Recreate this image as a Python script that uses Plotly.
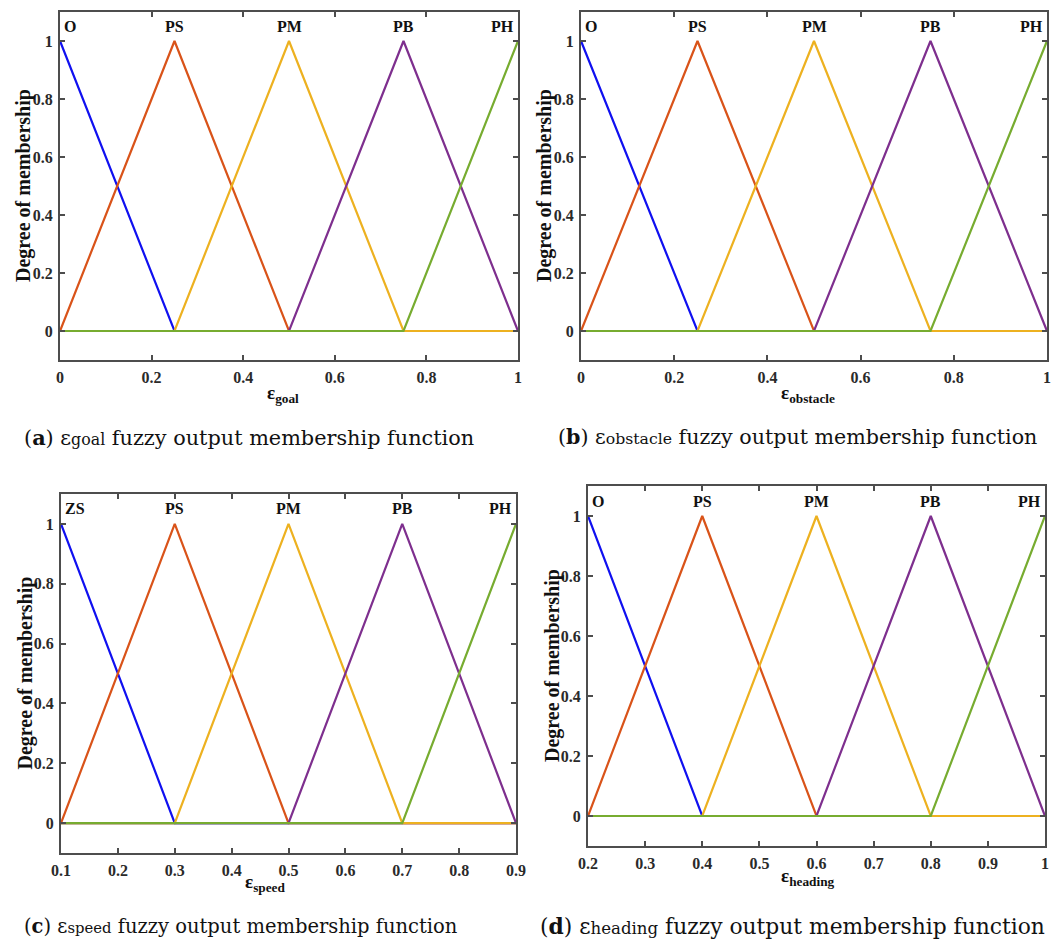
import plotly.graph_objects as go

W, H = 1063, 942

# ---- data ----
GOAL_X = [0.0, 0.25, 0.5, 0.75, 1.0]
OBST_X = [0.0, 0.25, 0.5, 0.75, 1.0]
SPEED_X = [0.1, 0.3, 0.5, 0.7, 0.9]
HEAD_X = [0.2, 0.4, 0.6, 0.8, 1.0]

MF_1 = [1, 0, 0, 0, 0]
MF_2 = [0, 1, 0, 0, 0]
MF_3 = [0, 0, 1, 0, 0]
MF_4 = [0, 0, 0, 1, 0]
MF_5 = [0, 0, 0, 0, 1]

LABELS_GOAL = ["O", "PS", "PM", "PB", "PH"]
LABELS_OBST = ["O", "PS", "PM", "PB", "PH"]
LABELS_SPEED = ["ZS", "PS", "PM", "PB", "PH"]
LABELS_HEAD = ["O", "PS", "PM", "PB", "PH"]

TICKS_GOAL = [0, 0.2, 0.4, 0.6, 0.8, 1]
TICKTEXT_GOAL = ["0", "0.2", "0.4", "0.6", "0.8", "1"]
TICKS_SPEED = [0.1, 0.2, 0.3, 0.4, 0.5, 0.6, 0.7, 0.8, 0.9]
TICKTEXT_SPEED = ["0.1", "0.2", "0.3", "0.4", "0.5", "0.6", "0.7", "0.8", "0.9"]
TICKS_HEAD = [0.2, 0.3, 0.4, 0.5, 0.6, 0.7, 0.8, 0.9, 1.0]
TICKTEXT_HEAD = ["0.2", "0.3", "0.4", "0.5", "0.6", "0.7", "0.8", "0.9", "1"]
Y_TICKS = [0, 0.2, 0.4, 0.6, 0.8, 1]
Y_TICKTEXT = ["0", "0.2", "0.4", "0.6", "0.8", "1"]

COLORS = ["#1010f0", "#d95319", "#edb120", "#7e2f8e", "#77ac30"]

# ---- layout (pixel boxes: left, right, top, bottom) ----
panels = [
    dict(x=GOAL_X, labels=LABELS_GOAL, ticks=TICKS_GOAL, ticktext=TICKTEXT_GOAL,
         box=(60, 518, 12, 360), sub="goal", cap_x=22, cap_y=437, cap_fs=20.8,
         xt_x=283, xt_y=394, tl="a"),
    dict(x=OBST_X, labels=LABELS_OBST, ticks=TICKS_GOAL, ticktext=TICKTEXT_GOAL,
         box=(581, 1047, 12, 360), sub="obstacle", cap_x=556, cap_y=437, cap_fs=20.6,
         xt_x=808, xt_y=394, tl="b"),
    dict(x=SPEED_X, labels=LABELS_SPEED, ticks=TICKS_SPEED, ticktext=TICKTEXT_SPEED,
         box=(61, 516, 494, 853), sub="speed", cap_x=22, cap_y=926, cap_fs=19.5,
         xt_x=265, xt_y=883, tl="c"),
    dict(x=HEAD_X, labels=LABELS_HEAD, ticks=TICKS_HEAD, ticktext=TICKTEXT_HEAD,
         box=(588, 1045, 486, 846), sub="heading", cap_x=538, cap_y=926, cap_fs=21.8,
         xt_x=808, xt_y=877, tl="d"),
]

fig = go.Figure()
annotations = []
FRAME = "#4d4d4d"
TICKFONT = dict(family="Liberation Serif", size=16, color="#2a2a2a", weight="bold")

for i, p in enumerate(panels):
    n = i + 1
    xa = "x" if n == 1 else f"x{n}"
    ya = "y" if n == 1 else f"y{n}"
    for mf, col in zip([MF_1, MF_2, MF_3, MF_4, MF_5], COLORS):
        fig.add_trace(go.Scatter(x=p["x"], y=mf, mode="lines",
                                 line=dict(color=col, width=2.2),
                                 xaxis=xa, yaxis=ya, showlegend=False,
                                 hoverinfo="skip"))
    l, r, t, b = p["box"]
    xdom = [l / W, r / W]
    ydom = [1 - b / H, 1 - t / H]
    xmin, xmax = p["x"][0], p["x"][-1]
    axkey = "xaxis" if n == 1 else f"xaxis{n}"
    aykey = "yaxis" if n == 1 else f"yaxis{n}"
    fig.layout[axkey] = dict(domain=xdom, range=[xmin, xmax], anchor=ya,
                             tickmode="array", tickvals=p["ticks"], ticktext=p["ticktext"],
                             ticks="inside", ticklen=5, tickwidth=1.5, tickcolor=FRAME,
                             showline=True, linecolor=FRAME, linewidth=2, mirror="ticks",
                             showgrid=False, zeroline=False, tickfont=TICKFONT,
                             ticklabelstandoff=2, automargin=False)
    fig.layout[aykey] = dict(domain=ydom, range=[-0.1, 1.1], anchor=xa,
                             tickmode="array", tickvals=Y_TICKS, ticktext=Y_TICKTEXT,
                             ticks="inside", ticklen=5, tickwidth=1.5, tickcolor=FRAME,
                             showline=True, linecolor=FRAME, linewidth=2, mirror="ticks",
                             showgrid=False, zeroline=False, tickfont=TICKFONT,
                             ticklabelstandoff=2, automargin=False)
    # MF labels
    for j, (lab, cx) in enumerate(zip(p["labels"], p["x"])):
        if j == 0:
            anc, sh = "left", 2
        elif j == len(p["labels"]) - 1:
            anc, sh = "right", -2
        else:
            anc, sh = "center", 0
        annotations.append(dict(x=cx, y=1.05, xref=xa, yref=ya, text=f"<b>{lab}</b>",
                                showarrow=False, xanchor=anc, yanchor="middle", xshift=sh,
                                font=dict(family="Liberation Serif", size=16, color="#111111")))
    # y title
    annotations.append(dict(x=(l - 36) / W, y=1 - ((t + b) / 2) / H, xref="paper", yref="paper",
                            text="<b>Degree of membership</b>", textangle=-90, showarrow=False,
                            xanchor="center", yanchor="middle",
                            font=dict(family="Liberation Serif", size=20, color="#111111")))
    # x title
    annotations.append(dict(x=p["xt_x"] / W, y=1 - p["xt_y"] / H, xref="paper", yref="paper",
                            text=f"<b>ε<sub>{p['sub']}</sub></b>", showarrow=False,
                            xanchor="center", yanchor="middle",
                            font=dict(family="Liberation Serif", size=19, color="#111111")))
    # caption
    sub_fs = round(p["cap_fs"] * 0.76, 1)
    annotations.append(dict(x=p["cap_x"] / W, y=1 - p["cap_y"] / H, xref="paper", yref="paper",
                            text=f"(<b>{p['tl']}</b>) ε<span style='font-size:{sub_fs}px'>{p['sub']}</span> fuzzy output membership function",
                            showarrow=False, xanchor="left", yanchor="middle",
                            font=dict(family="DejaVu Serif", size=p["cap_fs"], color="#111111")))

fig.update_layout(width=W, height=H,
                  margin=dict(l=0, r=0, t=0, b=0, autoexpand=False),
                  plot_bgcolor="white", paper_bgcolor="white",
                  annotations=annotations)

fig.write_html("out.html")
